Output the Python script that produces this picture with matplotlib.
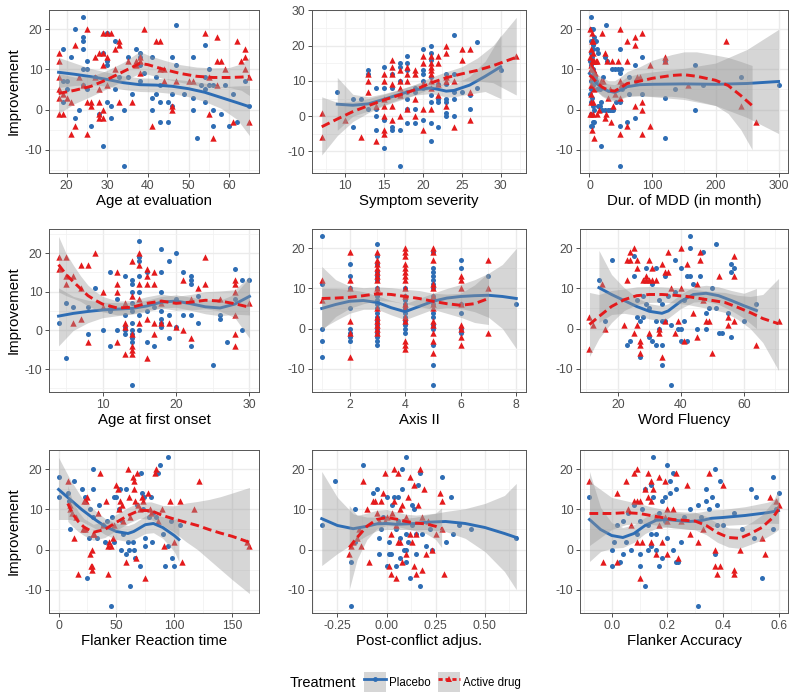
import matplotlib
matplotlib.use("Agg")
import matplotlib.pyplot as plt
from matplotlib.lines import Line2D
from matplotlib.patches import Patch
from matplotlib.ticker import MultipleLocator, FuncFormatter

plt.rcParams["font.family"] = ["Liberation Sans", "DejaVu Sans"]
plt.rcParams["axes.unicode_minus"] = False

BLUE = "#2E6DB4"
RED = "#E41A1C"
BAND = "#999999"

# ---------------------------------------------------------------------------
# Datos: puntos (x, mejora) y ajustes loess (x, y, lo, hi)
# ---------------------------------------------------------------------------

# 1. Age at evaluation
age_eval_placebo = [
    (24, 23), (22, 20), (24, 18), (24, 17), (24, 15), (25, 12), (21, 13), (19, 15), (20, 7), (19, 7),
    (19, 2), (20, 5), (23, 0), (22, -2), (26, -4), (24, 10), (25, 10), (25, 5), (24, 6), (27, 8),
    (28, -1), (29, 14), (29, -9), (30, 19), (30, 12), (30, 11), (30, 2), (31, -2), (31, 1), (32, 17),
    (32, 5), (33, 8), (34, 0), (34, -14), (35, 13), (35, 8), (37, 15), (38, 14), (38, 13), (38, 11),
    (38, 7), (39, 9), (36, 4), (41, 13), (41, 3), (41, 0), (42, 8), (42, 4), (43, 6), (43, -3),
    (43, 2), (45, 2), (45, -3), (46, 13), (46, 4), (46, 1), (47, 21), (47, 11), (49, 4), (51, 13),
    (51, 3), (51, 0), (52, -7), (53, 6), (54, 16), (54, 8), (54, 5), (54, 2), (55, 10), (55, 6),
    (56, 0), (56, -4), (56, 6), (58, -1), (59, 6), (60, -4), (61, 4), (62, -3), (64, 7), (65, 1),
]
age_eval_active = [
    (18, 14), (18, 12), (18, 8), (18, 5), (18, 3), (18, -1), (19, -1), (19, 4), (20, 3), (21, -6),
    (21, 2), (22, 16), (22, -4), (23, 8), (24, 6), (25, 20), (25, -6), (25, 2), (26, 2), (26, 1),
    (27, 13), (27, 8), (28, 14), (28, 5), (28, 2), (28, -1), (28, -2), (29, 19), (29, 14), (29, 11),
    (29, 0), (29, -2), (30, 19), (30, 13), (30, 6), (31, 19), (32, 15), (32, 10), (33, 17), (33, 16),
    (33, 2), (35, 12), (36, 2), (37, 11), (37, 12), (38, 13), (38, 9), (38, 12), (39, 20), (41, -4),
    (42, 17), (43, 17), (43, 10), (44, 10), (44, 7), (46, 1), (46, 0), (47, 7), (50, 7), (51, 7),
    (54, 19), (55, 8), (55, -1), (56, -7), (57, 18), (57, 12), (57, 6), (58, 12), (59, 10), (61, -3),
    (62, 17), (63, 12), (64, 15), (64, 13), (64, 10), (65, 8), (65, -3),
]
age_eval_fit_placebo = [
    (18, 9.3, 5.5, 13), (22, 8.8, 6, 11.6), (26, 8.2, 6.2, 10.2), (30, 7.5, 5.8, 9.3),
    (34, 6.7, 5, 8.4), (38, 6.2, 4.5, 7.9), (42, 6.1, 4.4, 7.8), (46, 5.8, 4, 7.6),
    (50, 5.2, 3.2, 7.2), (54, 4.3, 2, 6.6), (58, 3, 0.3, 5.7), (62, 1.7, -2.5, 5.9), (65, 0.7, -6.5, 6),
]
age_eval_fit_active = [
    (18, 4, -1, 9), (22, 4.8, 1.5, 8.1), (26, 5.8, 3.3, 8.3), (30, 7.5, 5.2, 9.8),
    (34, 9.5, 7.2, 11.8), (38, 11.5, 9, 14.5), (40, 11.2, 8.8, 13.6), (44, 10, 7.7, 12.3),
    (48, 9, 6.8, 11.2), (52, 8.3, 6, 10.6), (56, 8, 5.6, 10.4), (60, 8, 5.5, 10.5),
    (63, 8.1, 4.8, 11.4), (65, 8.3, 3.5, 13),
]

# 2. Symptom severity
severity_placebo = [
    (9, 7), (11, 5), (11, -3), (12, 5), (13, 13), (13, 12), (13, 2), (14, 8), (14, 2), (14, 0),
    (14, -4), (15, 14), (15, 8), (15, -1), (15, -9), (16, 12), (16, 8), (16, -3), (16, -4), (17, 15),
    (17, 14), (17, 10), (17, 6), (17, -4), (17, -14), (18, 17), (18, 15), (18, 13), (18, 7), (18, 5),
    (18, 2), (18, -2), (19, 8), (19, 7), (19, 2), (19, -2), (20, 19), (20, 13), (20, 12), (20, 10),
    (20, 8), (20, -1), (21, 20), (21, 18), (21, 16), (21, 11), (21, 6), (21, 4), (21, -2), (21, -7),
    (22, 9), (22, 5), (22, 4), (22, -3), (23, 12), (23, 9), (23, 5), (23, 4), (23, 1), (23, 0),
    (24, 23), (24, 12), (24, 7), (24, 5), (24, 0), (25, 7), (26, 6), (26, 2), (27, 21), (27, 8),
    (30, 13),
]
severity_active = [
    (7, 1), (7, -6), (10, -1), (12, -6), (13, 12), (13, 10), (13, 7), (14, -7), (14, 3), (15, 12),
    (15, 10), (15, 5), (15, 3), (15, 0), (15, -4), (15, -5), (16, 16), (16, 14), (16, 12), (16, 9),
    (16, 3), (16, -1), (17, 13), (17, 10), (17, 8), (17, 6), (17, 0), (18, 14), (18, 12), (18, 10),
    (18, 2), (19, 13), (19, 12), (19, 5), (19, 0), (20, 17), (20, 15), (20, 9), (20, 2), (20, -4),
    (21, 17), (21, 15), (21, 14), (21, 13), (21, 12), (21, 10), (21, 8), (21, 2), (22, 17), (22, 15),
    (22, 9), (22, 6), (23, 20), (23, 18), (23, 11), (23, 10), (23, 3), (24, 10), (24, -3), (25, 19),
    (25, 16), (26, 19), (26, 7), (26, -1), (32, 17),
]
severity_fit_placebo = [
    (9, 3.4, -4, 11), (11, 3.1, 0, 6.2), (13, 3.5, 1.5, 5.5), (15, 4.8, 3.2, 6.4),
    (17, 6.2, 4.8, 7.6), (19, 7.5, 6, 9), (21, 8, 6.4, 9.6), (22, 7.6, 6, 9.2),
    (23, 7.1, 5.4, 8.8), (24, 7.3, 5.5, 9.1), (26, 8.8, 6.3, 11.3), (28, 11.3, 7, 15.6),
    (30, 14, 5, 23),
]
severity_fit_active = [
    (7, -3, -11, 5.5), (9, -0.8, -5.5, 3.9), (11, 1.3, -1.5, 4.1), (13, 3, 1, 5),
    (15, 4.6, 3, 6.2), (17, 6, 4.5, 7.5), (19, 7.5, 6, 9), (21, 9.4, 7.8, 11),
    (23, 10.9, 9.2, 12.6), (25, 12, 10, 14), (27, 13, 10, 16.5), (29, 14.3, 9.5, 20),
    (32, 16.7, 6, 28),
]

# 3. Dur. of MDD (in month)
mdd_placebo = [
    (2, 23), (3, 20), (5, 20), (3, 17), (6, 16), (8, 18), (10, 17), (12, 15), (13, 14), (6, 15),
    (2, 14), (4, 13), (1, 12), (3, 11), (5, 10), (7, 9), (4, 8), (2, 7), (6, 6), (3, 5),
    (1, 4), (4, 3), (2, 2), (6, 1), (8, 0), (3, -1), (5, -3), (2, -4), (4, -4), (7, -3),
    (9, 8), (11, 7), (12, 5), (14, 1), (16, 5), (17, 1), (18, -9), (19, 2), (20, 0), (22, 8),
    (24, 0), (25, 13), (26, 21), (28, 12), (30, 0), (32, 0), (35, 10), (36, 0), (38, 0), (40, 10),
    (42, 2), (45, 10), (48, 15), (48, 9), (48, -4), (48, -14), (48, 2), (50, 10), (52, 5), (60, -3),
    (62, 8), (62, 4), (72, 11), (72, -2), (74, 7), (84, 13), (84, 4), (120, -7), (120, 3), (120, 12),
    (135, 5), (168, 11), (168, 0), (180, 6), (240, 8), (300, 6),
]
mdd_active = [
    (1, 20), (1, 13), (1, -1), (2, 10), (2, 6), (2, 2), (3, 15), (3, 11), (3, 4), (3, -1),
    (4, 19), (4, 17), (4, 12), (4, 8), (4, -5), (5, 14), (5, 10), (5, 2), (6, 17), (6, 12),
    (6, -1), (7, -7), (8, 12), (8, 5), (9, 9), (10, 12), (12, 12), (12, -1), (15, 0), (18, 7),
    (20, 19), (22, 7), (24, 14), (24, -2), (26, -1), (28, 12), (30, 3), (32, 5), (34, -3), (36, 12),
    (38, 1), (40, 4), (46, 12), (48, 20), (48, 7), (48, 3), (48, -6), (50, 6), (54, 6), (60, 17),
    (60, 12), (60, -4), (72, 18), (72, 16), (72, 1), (76, 8), (80, 8), (84, 19), (84, 2), (84, 0),
    (84, -6), (96, 11), (96, -4), (120, 13), (120, 12), (156, 6), (216, 17), (240, 1), (264, -3),
]
mdd_fit_placebo = [
    (0, 9, 6.5, 11.5), (5, 8, 6, 10), (10, 6.7, 4.8, 8.6), (20, 5.3, 3.5, 7.1),
    (30, 4.6, 2.8, 6.4), (40, 4.3, 2.4, 6.2), (50, 4.9, 2.7, 7.1), (60, 5.7, 3.2, 8.2),
    (80, 6.2, 3.4, 9), (100, 6.3, 3.2, 9.4), (150, 6.4, 2.5, 10.3), (200, 6.3, 1, 11.6),
    (250, 6.5, -2, 15), (300, 7, -6, 20),
]
mdd_fit_active = [
    (0, 8.5, 6, 11), (5, 8, 5.8, 10.2), (10, 7, 4.8, 9.2), (20, 5.6, 3.3, 7.9),
    (30, 4.8, 2.4, 7.2), (40, 4.6, 2, 7.2), (50, 5.5, 2.8, 8.2), (60, 6.5, 3.5, 9.5),
    (80, 7.1, 3.5, 10.7), (100, 7.8, 3.3, 12.3), (130, 8.5, 3.3, 13.7), (150, 8.7, 3, 14.4),
    (170, 8.3, 2.2, 14.4), (200, 7.3, 1, 13.6), (220, 6, -1, 13), (240, 3.5, -5, 12),
    (258, 1, -10, 11),
]

# 4. Age at first onset
onset_placebo = [
    (4, 2), (5, 7), (5, -7), (6, 6), (8, 6), (8, -1), (9, 11), (10, 0), (11, 15), (11, -4),
    (11, 5), (12, 0), (12, 8), (13, 14), (13, 1), (13, 0), (13, -1), (13, 4), (14, 13), (14, 12),
    (14, 10), (14, 7), (14, 5), (14, 2), (14, 0), (14, -1), (14, -2), (14, -3), (14, -14), (15, 23),
    (15, 19), (15, 18), (15, 14), (15, 10), (15, 4), (15, 0), (16, 15), (16, 5), (16, -3), (17, -4),
    (17, 6), (18, 21), (18, 15), (18, 10), (18, 5), (18, 3), (18, 2), (18, 1), (19, 18), (19, -2),
    (19, 4), (20, 20), (20, 8), (20, 1), (21, 15), (21, 4), (22, 14), (22, 13), (22, 12), (22, 4),
    (22, -4), (23, 9), (23, 2), (25, -9), (26, 4), (26, 3), (27, -3), (28, 16), (28, 8), (29, 13),
    (29, 0), (30, 13),
]
onset_active = [
    (4, 19), (4, 16), (5, 19), (5, 12), (5, 14), (6, 14), (6, 2), (7, 17), (7, 11), (7, 3),
    (8, 17), (8, -3), (9, 20), (10, 10), (10, 6), (11, 6), (12, 15), (12, 12), (12, 10), (12, -3),
    (13, 7), (13, 2), (13, 1), (13, -6), (14, 18), (14, 9), (14, -1), (14, -4), (14, -5), (14, -6),
    (15, 20), (15, 17), (15, 12), (15, 8), (15, 2), (16, 16), (16, 14), (16, 12), (16, 3), (16, -7),
    (17, 15), (17, 12), (17, 2), (17, -1), (18, 2), (18, 7), (19, 2), (20, 1), (21, 13), (21, 0),
    (22, 8), (22, -2), (23, 11), (24, 19), (24, 12), (26, 8), (28, 13), (28, 12), (28, 10), (28, 4),
    (28, -1), (28, -4), (30, 7),
]
onset_fit_placebo = [
    (4, 3.7, -4, 11), (6, 4.4, 0, 8.8), (8, 4.9, 2, 7.8), (10, 5.3, 3.3, 7.3),
    (12, 5.5, 3.8, 7.2), (14, 5.7, 4.2, 7.2), (16, 6.3, 4.8, 7.8), (18, 7.3, 5.8, 8.8),
    (20, 7.6, 6, 9.2), (22, 6.9, 5.2, 8.6), (24, 6.1, 4.3, 7.9), (26, 5.8, 3.8, 7.8),
    (28, 6.8, 4.2, 9.4), (30, 8.8, 4, 13.6),
]
onset_fit_active = [
    (4, 17, 10, 24.3), (5, 14.5, 9, 20), (6, 12.6, 8.3, 16.9), (7, 10.8, 7.5, 14.1),
    (8, 9, 6.3, 11.7), (9, 7.8, 5.5, 10.1), (10, 6.8, 4.8, 8.8), (12, 5.8, 4, 7.6),
    (14, 6, 4.3, 7.7), (16, 7, 5.3, 8.7), (18, 7.6, 5.8, 9.4), (20, 7, 5.2, 8.8),
    (22, 7.3, 5.3, 9.3), (24, 7.8, 5.6, 10), (26, 7.6, 5, 10.2), (28, 6.9, 3.3, 10.5),
    (30, 6, -2, 14),
]

# 5. Axis II
axis2_placebo = [
    (1, 23), (1, 11), (1, 0), (1, -3), (1, -7),
    (2, 16), (2, 13), (2, 10), (2, 5), (2, 0), (2, -1), (2, -2), (2, -3),
    (3, 21), (3, 18), (3, 16), (3, 14), (3, 13), (3, 12), (3, 10), (3, 8), (3, 7), (3, 6),
    (3, 5), (3, 4), (3, 3), (3, 2), (3, 1), (3, 0), (3, -1), (3, -2), (3, -3), (3, -4),
    (4, 10), (4, 8), (4, 7), (4, 6), (4, 5), (4, 4), (4, 3), (4, 2), (4, 1), (4, 0), (4, -1),
    (5, 19), (5, 15), (5, 14), (5, 13), (5, 12), (5, 11), (5, 10), (5, 8), (5, 7), (5, 6),
    (5, 4), (5, 3), (5, 1), (5, 0), (5, -4), (5, -9), (5, -14),
    (6, 17), (6, 15), (6, 6), (6, 4), (6, 0), (6, -1), (7, 13), (8, 6),
]
axis2_active = [
    (1, 12), (1, 7),
    (2, 19), (2, 12), (2, 10), (2, 2), (2, -1), (2, -7),
    (3, 19), (3, 17), (3, 16), (3, 15), (3, 14), (3, 13), (3, 12), (3, 10), (3, 9), (3, 5),
    (3, 3), (3, 2), (3, 1), (3, 0), (3, -1),
    (4, 20), (4, 19), (4, 18), (4, 16), (4, 15), (4, 14), (4, 13), (4, 12), (4, 10), (4, 8),
    (4, 6), (4, 5), (4, 3), (4, 2), (4, -3), (4, -4), (4, -5),
    (5, 20), (5, 19), (5, 17), (5, 11), (5, 10), (5, 8), (5, 6), (5, 5), (5, 2), (5, 1),
    (5, -1), (5, -3), (5, -6),
    (6, 13), (6, 12), (6, 10), (6, 6), (6, 1), (6, 0), (6, -2), (6, -4),
    (7, 17), (7, 10), (7, -1),
]
axis2_fit_placebo = [
    (1, 5, 0, 10), (1.5, 6, 2, 10), (2, 6.8, 3.8, 9.8), (2.5, 7, 4.8, 9.2),
    (3, 6.5, 4.8, 8.2), (3.5, 5.2, 3.4, 7), (4, 4.2, 2.2, 6.2), (4.5, 5.5, 3.5, 7.5),
    (5, 6.8, 4.8, 8.8), (5.5, 7.6, 5.2, 10), (6, 8, 5, 11), (6.5, 8.2, 4.2, 12.2),
    (7, 8.3, 2.8, 13.8), (7.5, 8, 0, 16), (8, 7.5, -5, 20),
]
axis2_fit_active = [
    (1, 7.5, -0.5, 15.5), (1.5, 7.6, 3, 12.2), (2, 7.8, 5, 10.6), (2.5, 8.2, 6.2, 10.2),
    (3, 8.7, 7, 10.4), (3.5, 8.5, 6.8, 10.2), (4, 8, 6.2, 9.8), (4.5, 7.5, 5.5, 9.5),
    (5, 6.8, 4.8, 8.8), (5.5, 6.2, 3.8, 8.6), (6, 5.8, 2.8, 8.8), (6.5, 6.2, 1.5, 10.9),
    (7, 7.5, 1, 14),
]

# 6. Word Fluency
fluency_placebo = [
    (14, 12), (16, 2), (18, 17), (23, -4), (24, -3), (25, 18), (25, 13), (26, 3), (26, 7), (27, -7),
    (27, 2), (28, 3), (28, 8), (29, 15), (29, 6), (30, -2), (30, 5), (31, 11), (31, -3), (32, 15),
    (32, 2), (32, -4), (33, 7), (33, 0), (34, 6), (34, 2), (34, -4), (34, -9), (35, 13), (35, 2),
    (36, 8), (37, 1), (37, -14), (38, 17), (38, 9), (39, 0), (40, 15), (40, 0), (40, -3), (41, 2),
    (41, 7), (42, 13), (42, -3), (43, 23), (43, 20), (43, 13), (44, 11), (45, 0), (46, 13), (47, 19),
    (48, 4), (48, 0), (49, 5), (50, 10), (51, 21), (51, 5), (52, -1), (53, -1), (55, 4), (56, 16),
    (56, 14), (56, -2), (57, 15), (60, 2), (64, 6),
]
fluency_active = [
    (11, -5), (11, 3), (12, 1), (15, 11), (16, 0), (22, 1), (23, 17), (23, 12), (24, 19), (24, 17),
    (25, -1), (25, 20), (26, 17), (26, 15), (26, 1), (27, -3), (27, -4), (27, -6), (28, 12), (29, 13),
    (29, 12), (30, 17), (30, 12), (30, -1), (31, 15), (31, 12), (32, 12), (33, 0), (33, -1), (34, 16),
    (34, -7), (35, 14), (35, 2), (36, 19), (36, 14), (37, 10), (38, -1), (39, 2), (40, 20), (40, 10),
    (41, -3), (42, 16), (44, 4), (45, -2), (45, 11), (46, 19), (46, 17), (47, 7), (48, 2), (49, 2),
    (50, -6), (52, 13), (55, 1), (55, 3), (57, 18), (57, 13), (57, 2), (64, -4), (71, 2),
]
fluency_fit_placebo = [
    (14, 10.2, 1.5, 19.5), (18, 8.5, 3.5, 13.5), (22, 7, 3.8, 10.2), (26, 5.5, 3.3, 7.7),
    (30, 4.3, 2.4, 6.2), (34, 3.8, 1.9, 5.7), (36, 4.4, 2.6, 6.2), (40, 6.8, 5, 8.6),
    (44, 8.5, 6.6, 10.4), (48, 8.8, 6.8, 10.8), (52, 8.2, 6, 10.4), (56, 7, 4.5, 9.5),
    (60, 5.7, 2.6, 8.8), (64, 4.5, 0, 10),
]
fluency_fit_active = [
    (11, 1, -7, 9), (14, 3, -2.5, 8.5), (18, 5.5, 1.5, 9.5), (22, 7.2, 4.5, 9.9),
    (26, 8.2, 6, 10.4), (30, 8.5, 6.5, 10.5), (34, 8.5, 6.6, 10.4), (38, 8.3, 6.4, 10.2),
    (42, 8, 6, 10), (46, 7.5, 5.4, 9.6), (50, 7, 4.8, 9.2), (54, 6.5, 4, 9),
    (58, 5.3, 2.3, 8.3), (62, 4, 0, 8), (66, 2.5, -3.5, 8.5), (71, 1.2, -10.5, 12.5),
]

# 7. Flanker Reaction time
flanker_rt_placebo = [
    (0, 18), (0, 13), (8, 14), (9, 12), (10, 5), (13, 17), (20, 15), (23, 13), (25, -7), (26, 3),
    (27, 10), (30, 20), (30, 15), (30, 8), (33, 3), (35, 11), (38, 6), (40, 2), (42, 7), (45, -14),
    (46, 8), (48, 2), (48, 13), (50, 13), (52, 10), (53, 15), (54, 0), (55, 7), (56, 4), (58, 15),
    (58, -1), (60, 2), (61, 0), (62, -9), (64, 2), (65, 0), (66, -2), (68, 11), (70, -4), (71, 19),
    (72, 14), (73, 10), (74, 13), (75, 1), (75, 3), (78, 8), (80, 13), (81, 2), (82, 9), (84, 8),
    (86, 19), (88, 21), (90, 4), (92, -4), (95, 23), (95, 1), (97, 7), (98, -2), (100, -4), (105, 6),
]
flanker_rt_active = [
    (8, 17), (10, 11), (10, 10), (12, 9), (13, 3), (15, 8), (17, -6), (21, 5), (22, 12), (23, 5),
    (24, 12), (25, 13), (27, -1), (28, -4), (29, 0), (29, -4), (29, -5), (30, 4), (31, 4), (34, 9),
    (36, 19), (38, 6), (41, 12), (43, -6), (43, 1), (44, 2), (45, 1), (47, 3), (48, 6), (50, 16),
    (51, 15), (52, 10), (53, 12), (55, 11), (56, 7), (58, -3), (60, 20), (61, 13), (62, 8), (64, 18),
    (65, 17), (65, 15), (66, 12), (67, -2), (68, 19), (69, 11), (70, 10), (72, 13), (73, 12), (75, -7),
    (77, 14), (79, 10), (80, 9), (83, 19), (84, 20), (86, 7), (89, 10), (91, 1), (96, 12), (100, 2),
    (105, 12), (107, -3), (117, 10), (121, 17), (163, 2), (165, 1),
]
flanker_rt_fit_placebo = [
    (0, 15, 7.5, 23), (10, 12.5, 7.5, 17.5), (20, 10, 7, 13), (30, 7.8, 5.5, 10.1),
    (40, 5.8, 3.8, 7.8), (50, 4.5, 2.5, 6.5), (60, 4, 2, 6), (65, 4.5, 2.5, 6.5),
    (75, 6.2, 4, 8.4), (82, 6.5, 4.2, 8.8), (90, 5.5, 2.8, 8.2), (100, 3.5, -0.5, 7.5),
    (104, 2.5, -3, 8),
]
flanker_rt_fit_active = [
    (8, 11.5, 7, 16), (12, 9, 5.8, 12.2), (17, 7, 4.5, 9.5), (22, 5.6, 3.5, 7.7),
    (30, 4.3, 2.3, 6.3), (40, 5, 3, 7), (50, 6.8, 4.8, 8.8), (60, 8.5, 6.5, 10.5),
    (70, 9.8, 7.8, 11.8), (80, 9.7, 7.5, 11.9), (90, 8.5, 6, 11), (100, 7.6, 4.3, 10.9),
    (110, 6.8, 2, 11.6), (120, 6, 0, 12), (130, 5, -2.5, 12.5), (140, 4.1, -5, 13.2),
    (150, 3.3, -7.5, 14.1), (165, 1.8, -11, 15.5),
]

# 8. Post-conflict adjus.
post_conflict_placebo = [
    (-0.33, 6), (-0.26, 17), (-0.18, -14), (-0.18, -3), (-0.16, 10), (-0.16, 2), (-0.12, 21),
    (-0.07, 14), (-0.05, 15), (-0.04, 3), (-0.04, -1), (-0.03, 5), (-0.02, 8), (0.0, -4), (0.0, 13),
    (0.01, 2), (0.01, -1), (0.02, -1), (0.03, 11), (0.04, 13), (0.05, 5), (0.05, -4), (0.06, 13),
    (0.06, 7), (0.07, 3), (0.07, -2), (0.08, 15), (0.08, 20), (0.09, 0), (0.1, 23), (0.1, 0),
    (0.1, -3), (0.1, 4), (0.11, 2), (0.12, -7), (0.13, 11), (0.13, 6), (0.14, 10), (0.15, 4),
    (0.15, -1), (0.16, 16), (0.17, 19), (0.17, -9), (0.18, 4), (0.2, 1), (0.22, 5), (0.23, 0),
    (0.28, 18), (0.3, 2), (0.33, 13), (0.34, 4), (0.37, 6), (0.43, 5), (0.66, 3),
]
post_conflict_active = [
    (-0.19, -1), (-0.18, 1), (-0.17, 2), (-0.15, 3), (-0.14, 5), (-0.13, 1), (-0.12, 17),
    (-0.1, 10), (-0.09, -3), (-0.07, 12), (-0.06, 12), (-0.05, 9), (-0.04, 7), (-0.03, 12),
    (-0.02, 14), (-0.01, 19), (-0.01, 7), (0.0, 8), (0.01, -4), (0.02, -6), (0.02, 4), (0.03, 9),
    (0.04, 20), (0.04, 12), (0.05, -7), (0.05, 6), (0.06, 19), (0.06, 2), (0.07, 10), (0.07, 2),
    (0.08, -3), (0.08, 11), (0.09, 7), (0.1, 8), (0.1, -1), (0.11, 13), (0.12, 18), (0.12, 4),
    (0.13, 2), (0.14, 16), (0.14, -4), (0.15, 4), (0.15, -6), (0.16, 11), (0.17, 20), (0.18, 8),
    (0.18, -5), (0.19, 15), (0.2, -1), (0.21, 7), (0.23, 0), (0.25, 4), (0.27, 14), (0.28, 12),
    (0.28, 5), (0.29, -6),
]
post_conflict_fit_placebo = [
    (-0.33, 7.7, -4, 19.5), (-0.25, 6, -1, 13), (-0.17, 5.2, 1.5, 8.9), (-0.1, 5.8, 3.5, 8.1),
    (-0.05, 6.4, 4.7, 8.1), (0.0, 6.5, 5, 8), (0.05, 6.3, 5, 7.6), (0.1, 6.4, 5, 7.8),
    (0.15, 6.5, 4.9, 8.1), (0.2, 6.8, 5, 8.6), (0.3, 7, 4.5, 9.5), (0.4, 6.5, 2.8, 10.2),
    (0.5, 5.5, -0.5, 11.5), (0.6, 4, -5.5, 13.5), (0.66, 3, -10, 16.5),
]
post_conflict_fit_active = [
    (-0.19, 0.5, -10, 11), (-0.15, 3, -2.5, 8.5), (-0.1, 5.8, 2.5, 9.1), (-0.05, 7.5, 5.2, 9.8),
    (0.0, 8, 6, 10), (0.05, 7.6, 5.8, 9.4), (0.1, 7, 5.2, 8.8), (0.15, 6.6, 4.6, 8.6),
    (0.2, 6.4, 4, 8.8), (0.25, 5.8, 2.5, 9.1), (0.28, 5.2, 0.5, 10.4),
]

# 9. Flanker Accuracy
flanker_acc_placebo = [
    (-0.08, 13), (0.0, 0), (0.0, -4), (0.01, 2), (0.02, 6), (0.03, -3), (0.04, -1), (0.04, 7),
    (0.05, 2), (0.06, 9), (0.07, 0), (0.08, 11), (0.09, 4), (0.1, 7), (0.1, -1), (0.1, -4),
    (0.11, 10), (0.12, -9), (0.12, 15), (0.13, 6), (0.13, 0), (0.14, 16), (0.14, 1), (0.14, 4),
    (0.15, 23), (0.15, 13), (0.16, 0), (0.16, 4), (0.17, -4), (0.17, 9), (0.18, -2), (0.18, 12),
    (0.19, 13), (0.19, 7), (0.2, 21), (0.2, 3), (0.21, 17), (0.21, 14), (0.22, 19), (0.22, 0),
    (0.23, -3), (0.23, 15), (0.24, -3), (0.25, 2), (0.26, 8), (0.28, 10), (0.31, 11), (0.31, -14),
    (0.32, 8), (0.34, 15), (0.34, 12), (0.35, 10), (0.36, 13), (0.37, 20), (0.37, -1), (0.38, 6),
    (0.38, 11), (0.39, 17), (0.4, 6), (0.44, 9), (0.47, 5), (0.5, 15), (0.51, 3), (0.52, 13),
    (0.54, -7), (0.58, 18), (0.58, 5), (0.59, 10), (0.6, 14),
]
flanker_acc_active = [
    (-0.08, 17), (-0.03, -3), (0.02, 14), (0.02, -3), (0.05, 17), (0.06, 10), (0.07, 6), (0.08, 12),
    (0.08, 19), (0.09, 20), (0.09, 12), (0.09, 2), (0.1, -7), (0.1, 12), (0.11, 2), (0.12, 15),
    (0.13, 19), (0.13, 13), (0.14, 17), (0.14, 12), (0.14, 2), (0.15, 15), (0.16, 8), (0.16, -1),
    (0.17, 6), (0.17, 18), (0.18, 2), (0.19, 17), (0.19, 8), (0.2, -1), (0.2, 10), (0.2, 7),
    (0.22, 10), (0.23, 19), (0.24, -2), (0.25, 7), (0.27, 16), (0.28, 4), (0.31, 2), (0.33, 5),
    (0.35, 19), (0.37, 0), (0.37, -4), (0.38, -6), (0.39, -4), (0.4, 16), (0.44, -5), (0.44, -6),
    (0.46, 0), (0.54, 3), (0.55, -1), (0.57, 13), (0.59, 12), (0.6, 11),
]
flanker_acc_fit_placebo = [
    (-0.08, 7.5, -3, 19.5), (-0.04, 5, -0.5, 10.5), (0.0, 3.5, 0.3, 6.7), (0.04, 3, 0.5, 5.5),
    (0.08, 4, 1.8, 6.2), (0.12, 6, 4, 8), (0.16, 7.3, 5.3, 9.3), (0.2, 7.5, 5.6, 9.4),
    (0.24, 7.2, 5.3, 9.1), (0.28, 7, 5, 9), (0.32, 7.2, 5, 9.4), (0.36, 7.8, 5.7, 9.9),
    (0.4, 8, 6, 10), (0.48, 8.5, 6.3, 10.7), (0.56, 9.2, 6.6, 11.8), (0.6, 9.7, 6.5, 13),
]
flanker_acc_fit_active = [
    (-0.08, 9, 1, 17), (0.0, 9, 5, 13), (0.05, 9.2, 6.2, 12.2), (0.1, 9, 6.6, 11.4),
    (0.14, 8.5, 6.3, 10.7), (0.18, 8, 5.9, 10.1), (0.22, 7.5, 5.4, 9.6), (0.26, 7.3, 5.2, 9.4),
    (0.3, 7.1, 4.9, 9.3), (0.34, 6, 3.7, 8.3), (0.38, 4.2, 1.8, 6.6), (0.42, 3, 0.6, 5.4),
    (0.46, 2.8, 0.3, 5.3), (0.5, 4, 1.3, 6.7), (0.54, 5.5, 2.4, 8.6), (0.58, 8, 4, 12),
    (0.6, 10, 5, 15),
]

xlabels = ["Age at evaluation", "Symptom severity", "Dur. of MDD (in month)",
           "Age at first onset", "Axis II", "Word Fluency",
           "Flanker Reaction time", "Post-conflict adjus.", "Flanker Accuracy"]
xtick_steps = [10, 5, 100, 10, 2, 20, 50, 0.25, 0.2]
xtick_decimals = [0, 0, 0, 0, 0, 0, 0, 2, 1]

paneles = [
    (age_eval_placebo, age_eval_active, age_eval_fit_placebo, age_eval_fit_active),
    (severity_placebo, severity_active, severity_fit_placebo, severity_fit_active),
    (mdd_placebo, mdd_active, mdd_fit_placebo, mdd_fit_active),
    (onset_placebo, onset_active, onset_fit_placebo, onset_fit_active),
    (axis2_placebo, axis2_active, axis2_fit_placebo, axis2_fit_active),
    (fluency_placebo, fluency_active, fluency_fit_placebo, fluency_fit_active),
    (flanker_rt_placebo, flanker_rt_active, flanker_rt_fit_placebo, flanker_rt_fit_active),
    (post_conflict_placebo, post_conflict_active, post_conflict_fit_placebo, post_conflict_fit_active),
    (flanker_acc_placebo, flanker_acc_active, flanker_acc_fit_placebo, flanker_acc_fit_active),
]

# --- layout en píxeles (figura 800 x 700) ---
W, H = 800, 700
col_left = [49, 312, 580]
col_width = [210, 214, 208]
row_top = [10, 229, 450]
row_height = 163

fig = plt.figure(figsize=(8, 7), dpi=100)
fig.patch.set_facecolor("white")


def _fmt(dec):
    return FuncFormatter(lambda v, p: f"{round(v, 4) + 0.0:.{dec}f}")


for i, (pla, act, fit_pla, fit_act) in enumerate(paneles):
    r, c = divmod(i, 3)
    ax = fig.add_axes([col_left[c] / W, 1 - (row_top[r] + row_height) / H,
                       col_width[c] / W, row_height / H])

    ax.scatter([p[0] for p in pla], [p[1] for p in pla], s=13, c=BLUE,
               marker="o", linewidths=0, zorder=2)
    ax.scatter([p[0] for p in act], [p[1] for p in act], s=21, c=RED,
               marker="^", linewidths=0, zorder=2)

    z = 3
    for fit, color, ls in [(fit_pla, BLUE, "-"), (fit_act, RED, "--")]:
        fx = [f[0] for f in fit]
        ax.fill_between(fx, [f[2] for f in fit], [f[3] for f in fit],
                        color=BAND, alpha=0.4, linewidth=0, zorder=z)
        ln, = ax.plot(fx, [f[1] for f in fit], color=color, lw=2.1, ls=ls, zorder=z + 1)
        if ls == "--":
            ln.set_dashes((3, 1.5))
        z += 2

    ax.margins(0.05)
    ax.xaxis.set_major_locator(MultipleLocator(xtick_steps[i]))
    ax.xaxis.set_minor_locator(MultipleLocator(xtick_steps[i] / 2))
    ax.xaxis.set_major_formatter(_fmt(xtick_decimals[i]))
    ax.yaxis.set_major_locator(MultipleLocator(10))
    ax.yaxis.set_minor_locator(MultipleLocator(5))
    ax.yaxis.set_major_formatter(_fmt(0))

    ax.set_axisbelow(True)
    ax.grid(which="major", color="#EBEBEB", lw=1.0)
    ax.grid(which="minor", color="#F2F2F2", lw=0.6)
    ax.tick_params(which="major", length=2.75, width=0.6, color="#333333",
                   labelcolor="#4D4D4D", labelsize=8.8, pad=2)
    ax.tick_params(which="minor", length=0)
    for sp in ax.spines.values():
        sp.set_color("#555555")
        sp.set_linewidth(0.7)

    ax.set_xlabel(xlabels[i], fontsize=10.8, labelpad=2)
    if c == 0:
        ax.set_ylabel("Improvement", fontsize=10.8, labelpad=3)

# --- leyenda ---
fondo = Patch(facecolor=BAND, alpha=0.4, edgecolor="none")
h_pla = Line2D([], [], color=BLUE, lw=2.0, marker="o", markersize=3.5, markeredgewidth=0)
h_act = Line2D([], [], color=RED, lw=2.0, ls="--", dashes=(1.5, 1), marker="^",
               markersize=4, markeredgewidth=0)
fig.text(290 / W, 1 - 683 / H, "Treatment", fontsize=10.5, ha="left", va="center")
fig.legend([(fondo, h_pla), (fondo, h_act)], ["Placebo", "Active drug"],
           loc="center left", bbox_to_anchor=(358 / W, 1 - 682 / H), ncol=2,
           frameon=False, fontsize=8.3, handlelength=1.9, handleheight=2.4,
           handletextpad=0.3, columnspacing=0.6, borderpad=0, numpoints=1)

fig.savefig("out.png", dpi=100, facecolor="white")
